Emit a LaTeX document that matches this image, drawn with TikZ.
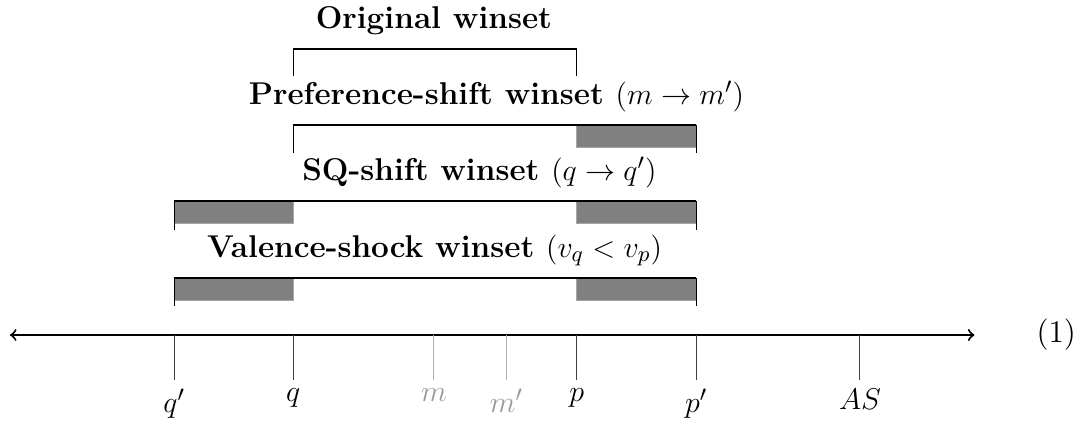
\documentclass[tikz,border=0pt]{standalone}
\begin{document}
\begin{tikzpicture}[
        winline/.style={thick},
        endtick/.style={draw=black},
        shaded/.style={fill=gray, draw=gray!70, line width=0.3pt},
        pointtick/.style={draw=black!75},
        faint/.style={draw=black!30},
        every node/.style={font=\fontsize{12.6}{15}\selectfont},
        title/.style={font=\fontsize{12.6}{15}\selectfont\bfseries, anchor=base}
    ]
    \useasboundingbox (0,0) rectangle (15.24,-5.975);

    % shaded parts of the winsets
    \fill[shaded] (8.11,-1.76) rectangle (9.79,-2.07);
    \fill[shaded] (2.45,-2.83) rectangle (4.12,-3.14);
    \fill[shaded] (8.11,-2.83) rectangle (9.79,-3.14);
    \fill[shaded] (2.45,-3.91) rectangle (4.12,-4.22);
    \fill[shaded] (8.11,-3.91) rectangle (9.79,-4.22);

    % brackets
    \node[title] (orig) at (6.10,-0.40) {Original winset};
    \draw[winline] (4.12,-0.69) -- (8.11,-0.69);
    \draw[endtick] (4.12,-0.69) -- (4.12,-1.07);
    \draw[endtick] (8.11,-0.69) -- (8.11,-1.07);

    \node[title] (pref) at (6.98,-1.47) {Preference-shift winset $(m \rightarrow m')$};
    \draw[winline] (4.12,-1.76) -- (9.79,-1.76);
    \draw[endtick] (4.12,-1.76) -- (4.12,-2.15);
    \draw[endtick] (9.79,-1.76) -- (9.79,-2.15);

    \node[title] (sq) at (6.74,-2.54) {SQ-shift winset $(q \rightarrow q')$};
    \draw[winline] (2.45,-2.83) -- (9.79,-2.83);
    \draw[endtick] (2.45,-2.83) -- (2.45,-3.23);
    \draw[endtick] (9.79,-2.83) -- (9.79,-3.23);

    \node[title] (val) at (6.11,-3.62) {Valence-shock winset $(v_q < v_p)$};
    \draw[winline] (2.45,-3.91) -- (9.79,-3.91);
    \draw[endtick] (2.45,-3.91) -- (2.45,-4.30);
    \draw[endtick] (9.79,-3.91) -- (9.79,-4.30);

    % the line
    \coordinate (west) at (0.14,-4.71);
    \coordinate (east) at (13.70,-4.71);
    \draw[thick,<->] (west) -- (east);
    \node (eqno) at (14.85,-4.71) {(1)};

    \foreach \name/\x/\lab in {qq/2.45/q', q/4.12/q, p/8.11/p, pp/9.79/p', as/12.09/AS} {
        \coordinate (\name) at (\x,-4.71);
        \draw[pointtick] (\name) -- ++(0,-0.63) node[below] (\name-lab) {$\lab$};
    }
    \foreach \name/\x/\lab in {m/6.10/m, mm/7.12/m'} {
        \coordinate (\name) at (\x,-4.71);
        \draw[faint] (\name) -- ++(0,-0.63) node[below, text=black!40] (\name-lab) {$\lab$};
    }
\end{tikzpicture}
\end{document}
